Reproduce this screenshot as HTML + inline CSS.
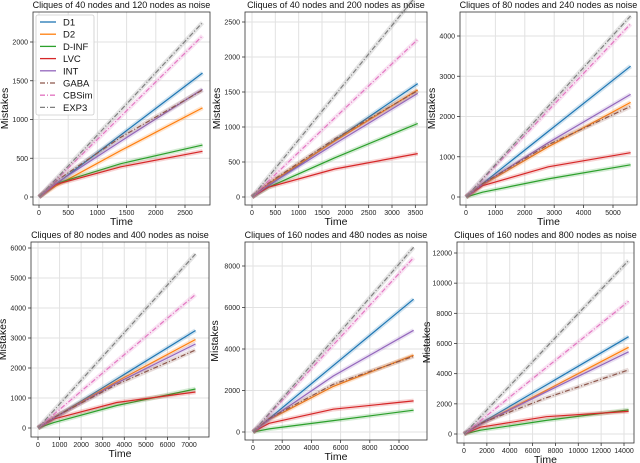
<!DOCTYPE html>
<html><head><meta charset="utf-8"><style>
html,body{margin:0;padding:0;background:#fff}
svg{display:block;font-family:"Liberation Sans","DejaVu Sans",sans-serif}
</style></head><body>
<svg id="c" width="640" height="463"></svg>
<script>
const seriesNames=["D1","D2","D-INF","LVC","INT","GABA","CBSim","EXP3"];
const seriesColors=["#1f77b4","#ff7f0e","#2ca02c","#d62728","#9467bd","#8c564b","#e377c2","#7f7f7f"];
const timeFractions=[0,0.1,0.5,1];
const panelTitles=["Cliques of 40 nodes and 120 nodes as noise","Cliques of 40 nodes and 200 nodes as noise","Cliques of 80 nodes and 240 nodes as noise","Cliques of 80 nodes and 400 nodes as noise","Cliques of 160 nodes and 480 nodes as noise","Cliques of 160 nodes and 800 nodes as noise"];
const panelXMax=[2800,3550,5600,7300,11000,14400];
const xTicks1=[0,500,1000,1500,2000,2500];
const xTicks2=[0,500,1000,1500,2000,2500,3000,3500];
const xTicks3=[0,1000,2000,3000,4000,5000];
const xTicks4=[0,1000,2000,3000,4000,5000,6000,7000];
const xTicks5=[0,2000,4000,6000,8000,10000];
const xTicks6=[0,2000,4000,6000,8000,10000,12000,14000];
const yTicks1=[0,500,1000,1500,2000];
const yTicks2=[0,500,1000,1500,2000,2500];
const yTicks3=[0,1000,2000,3000,4000];
const yTicks4=[0,1000,2000,3000,4000,5000,6000];
const yTicks5=[0,2000,4000,6000,8000];
const yTicks6=[0,2000,4000,6000,8000,10000,12000];
const vals1=[[0,160,800,1600],[0,140,600,1150],[0,170,430,670],[0,160,390,590],[0,170,720,1390],[0,200,770,1380],[0,210,1040,2080],[0,225,1120,2250]];
const vals2=[[0,160,810,1620],[0,190,800,1530],[0,140,560,1050],[0,140,400,620],[0,170,760,1480],[0,200,830,1520],[0,230,1130,2250],[0,290,1450,2900]];
const vals3=[[0,330,1630,3250],[0,300,1250,2350],[0,120,450,800],[0,280,750,1100],[0,320,1350,2550],[0,330,1300,2250],[0,430,2150,4300],[0,450,2250,4500]];
const vals4=[[0,330,1630,3250],[0,330,1550,2950],[0,180,750,1300],[0,300,850,1200],[0,330,1500,2800],[0,350,1450,2600],[0,450,2230,4450],[0,580,2900,5800]];
const vals5=[[0,640,3200,6400],[0,600,2200,3700],[0,150,550,1050],[0,420,1100,1500],[0,600,2700,4900],[0,650,2300,3650],[0,840,4200,8400],[0,890,4450,8900]];
const vals6=[[0,700,3250,6450],[0,650,2900,5750],[0,250,900,1600],[0,450,1150,1500],[0,650,2800,5450],[0,700,2400,4250],[0,880,4400,8800],[0,1150,5750,11500]];
const allX=[xTicks1,xTicks2,xTicks3,xTicks4,xTicks5,xTicks6];
const allY=[yTicks1,yTicks2,yTicks3,yTicks4,yTicks5,yTicks6];
const allV=[vals1,vals2,vals3,vals4,vals5,vals6];
const layout=[
 {box:[33,12,210,205],x0:39,xr:[2500,185],y0:197,yr:[2000,42]},
 {box:[245,12,427,205],x0:252,xr:[3000,392],y0:197,yr:[2500,22]},
 {box:[460,12,637,205],x0:466,xr:[5000,613],y0:197,yr:[4000,36]},
 {box:[31,242,209,437],x0:38,xr:[7000,189],y0:428,yr:[6000,248]},
 {box:[245,242,427,440],x0:253,xr:[10000,399],y0:432,yr:[8000,266]},
 {box:[457,242,634,443],x0:464,xr:[14000,624],y0:434,yr:[12000,253]}];
const svg=document.getElementById('c');
const NS="http://www.w3.org/2000/svg";
function mk(tag,attrs,parent){const e=document.createElementNS(NS,tag);for(const k in attrs)e.setAttribute(k,attrs[k]);(parent||svg).appendChild(e);return e;}
layout.forEach((L,p)=>{
 const g=mk('g',{});
 
 
 const sx=v=>L.x0+(L.xr[1]-L.x0)*v/L.xr[0];
 const sy=v=>L.y0+(L.yr[1]-L.y0)*v/L.yr[0];
 const [l,t,r,b]=L.box;
 allX[p].forEach(v=>{const x=sx(v);
  mk('line',{x1:x,x2:x,y1:t,y2:b,stroke:'#e2e2e2','stroke-width':1},g);
  mk('line',{x1:x,x2:x,y1:b,y2:b+3,stroke:'#333','stroke-width':0.8},g);
  const tx=mk('text',{x:x,y:b+10,'font-size':7,'text-anchor':'middle',fill:'#222'},g);tx.textContent=v;
  
  });
 allY[p].forEach(v=>{const y=sy(v);
  mk('line',{x1:l,x2:r,y1:y,y2:y,stroke:'#e2e2e2','stroke-width':1},g);
  mk('line',{x1:l-3,x2:l,y1:y,y2:y,stroke:'#333','stroke-width':0.8},g);
  const ty=mk('text',{x:l-5,y:y+2.5,'font-size':7,'text-anchor':'end',fill:'#222'},g);ty.textContent=v;
  
  });
 allV[p].forEach((vs,i)=>{
  const pts=vs.map((v,k)=>sx(timeFractions[k]*panelXMax[p]).toFixed(1)+','+sy(v).toFixed(1)).join(' ');
  const band=mk('polyline',{points:pts,fill:'none',stroke:seriesColors[i],'stroke-opacity':0.2,'stroke-width':4.5},g);
  
  
  const a={points:pts,fill:'none',stroke:seriesColors[i],'stroke-width':1.2};
  if(i>=5)a['stroke-dasharray']='5,2,1,2';
  const ln=mk('polyline',a,g);
  
  });
 mk('rect',{x:l,y:t,width:r-l,height:b-t,fill:'none',stroke:'#333','stroke-width':0.8},g);
 const ti=mk('text',{x:(l+r)/2,y:t-4,'font-size':9,'text-anchor':'middle',fill:'#111'},g);ti.textContent=panelTitles[p];
 
 
 const xl=mk('text',{x:(l+r)/2,y:b+20,'font-size':10.5,'text-anchor':'middle',fill:'#111'},g);xl.textContent='Time';
 
 
 const yx=l-(p%3===0?25:(p===4||p===5?27:25));
 const yl=mk('text',{x:yx,y:(t+b)/2,'font-size':10.5,'text-anchor':'middle',fill:'#111',transform:`rotate(-90 ${yx} ${(t+b)/2})`},g);yl.textContent='Mistakes';
 
 
});
const lg=mk('g',{});


mk('rect',{x:36,y:15,width:58,height:100,rx:2,fill:'#fff','fill-opacity':0.85,stroke:'#ccc','stroke-width':0.8},lg);
seriesNames.forEach((n,i)=>{
 const y=22+i*12.2;
 const a={x1:40,x2:56,y1:y,y2:y,stroke:seriesColors[i],'stroke-width':1.3};
 if(i>=5)a['stroke-dasharray']='5,2,1,2';
 mk('line',a,lg);
 const t=mk('text',{x:63,y:y+3.5,'font-size':9.5,fill:'#111'},lg);t.textContent=n;
 
 
});
</script>
</body></html>
